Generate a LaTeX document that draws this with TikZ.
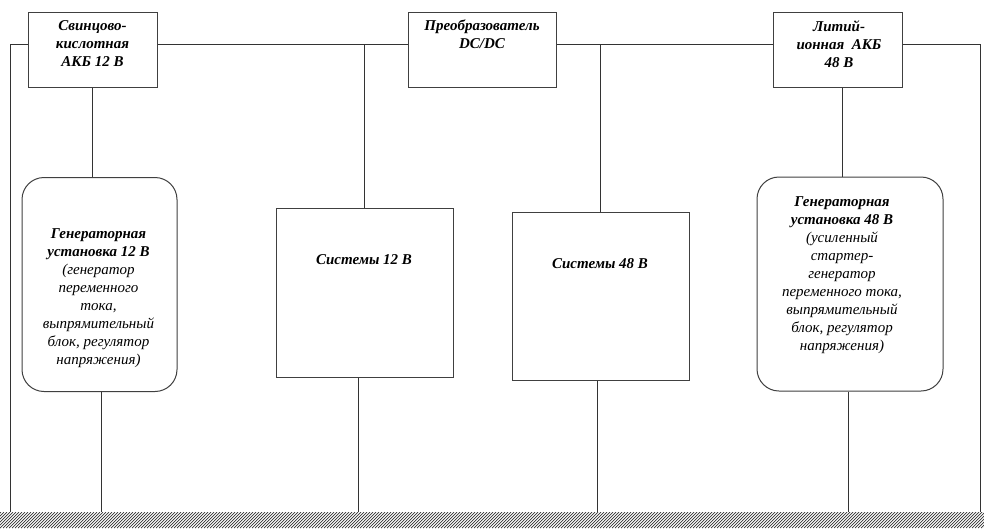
\documentclass[tikz,border=0pt]{standalone}
\usepackage{fontspec}
\setmainfont{Liberation Serif}
\begin{document}
\begin{tikzpicture}[x=1pt,y=-1pt,
  wire/.style={draw=black!80, line width=1pt},
  blk/.style={draw=black!75, line width=1pt, fill=white, inner sep=0pt},
  rblk/.style={blk, rounded corners=22pt},
  lbl/.style={font=\fontsize{15}{18}\selectfont\itshape, align=center, inner sep=0pt},
]
\useasboundingbox (0,0) rectangle (984,528);

% ground strip
\coordinate (gnd) at (0,512);
\begin{scope}
  \clip (0,512) rectangle (984,528);
  \foreach \i in {-18,-15,...,990}
    \draw[black!80, line width=0.7pt] (\i,528) -- (\i+16,512);
\end{scope}

% bus level and outer rails
\coordinate (busL) at (10,44);
\coordinate (busR) at (980,44);

% top units
\node[blk, minimum width=129pt, minimum height=75pt] (akb12) at (92.5,49.5) {};
\node[blk, minimum width=148pt, minimum height=75pt] (dcdc) at (482,49.5) {};
\node[blk, minimum width=129pt, minimum height=75pt] (akb48) at (837.5,49.5) {};

\node[lbl, anchor=north] (takb12) at (92.5,20) {\textbf{Свинцово-}\\\textbf{кислотная}\\\textbf{АКБ 12 В}};
\node[lbl, anchor=north] (tdcdc) at (482,20) {\textbf{Преобразователь}\\\textbf{DC/DC}};
\node[lbl, anchor=north] (takb48) at (839,20) {\textbf{Литий-}\\\textbf{ионная\ \ АКБ}\\\textbf{48 В}};

% lower units
\node[rblk, minimum width=155pt, minimum height=214pt] (gen12) at (99.5,284.5) {};
\node[blk, minimum width=177pt, minimum height=169pt] (sys12) at (364.5,292.5) {};
\node[blk, minimum width=177pt, minimum height=168pt] (sys48) at (600.5,296) {};
\node[rblk, minimum width=186pt, minimum height=214pt] (gen48) at (850,284) {};

\node[lbl] (tgen12) at (98.5,298) {\textbf{Генераторная}\\\textbf{установка 12 В}\\(генератор\\переменного\\тока,\\выпрямительный\\блок, регулятор\\напряжения)};
\node[lbl] (tsys12) at (364,260) {\textbf{Системы 12 В}};
\node[lbl] (tsys48) at (600,264) {\textbf{Системы 48 В}};
\node[lbl] (tgen48) at (842,275) {\textbf{Генераторная}\\\textbf{установка 48 В}\\(усиленный\\стартер-\\генератор\\переменного тока,\\выпрямительный\\блок, регулятор\\напряжения)};

% bus
\draw[wire] (busL |- gnd) -- (busL) -- (akb12.west |- busL);
\draw[wire] (akb12.east |- busL) -- (dcdc.west |- busL);
\draw[wire] (dcdc.east |- busL) -- (akb48.west |- busL);
\draw[wire] (akb48.east |- busL) -- (busR) -- (busR |- gnd);

% branches
\draw[wire] (akb12.south) -- (akb12.south |- gen12.north);
\draw[wire] (akb48.south -| 842,0) -- (gen48.north -| 842,0);
\draw[wire] (sys12.north) -- (sys12.north |- busL);
\draw[wire] (sys48.north) -- (sys48.north |- busL);

% returns to ground
\draw[wire] (gen12.south -| 101,0) -- (gnd -| 101,0);
\draw[wire] (sys12.south -| 358,0) -- (gnd -| 358,0);
\draw[wire] (sys48.south -| 597,0) -- (gnd -| 597,0);
\draw[wire] (gen48.south -| 848,0) -- (gnd -| 848,0);
\end{tikzpicture}
\end{document}
